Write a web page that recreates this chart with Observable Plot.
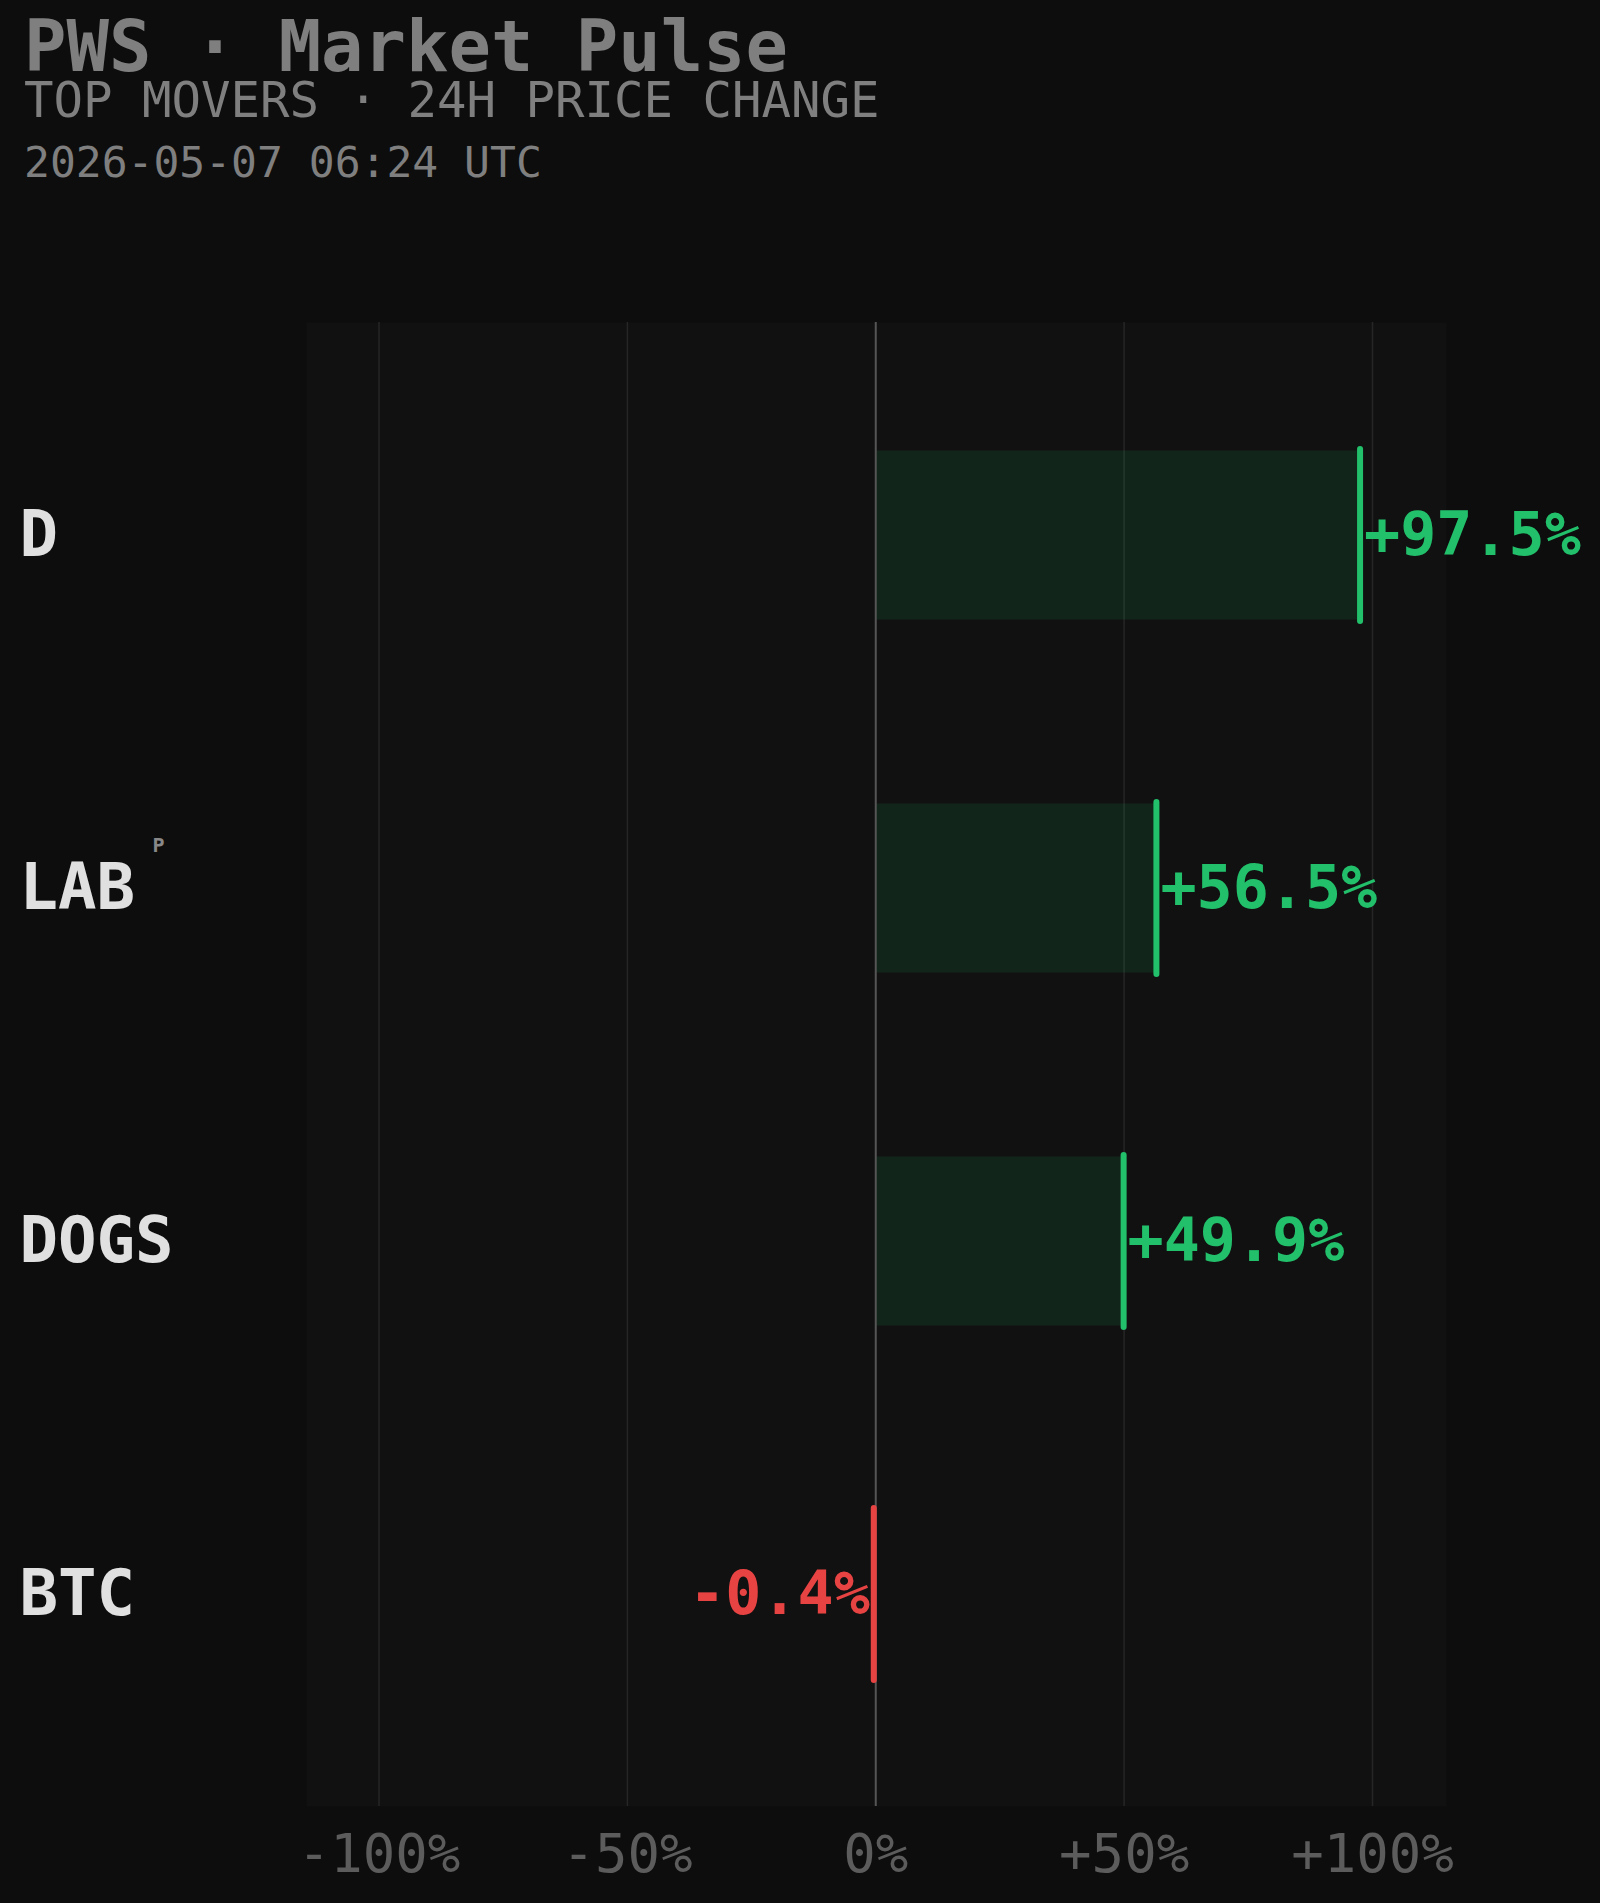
<!DOCTYPE html>
<html>
<head>
<meta charset="utf-8">
<script src="https://cdn.jsdelivr.net/npm/d3@7"></script>
<script src="https://cdn.jsdelivr.net/npm/@observablehq/plot@0.6"></script>
<style>
  html, body { margin: 0; padding: 0; background: #0d0d0d; }
  body { width: 1600px; height: 1903px; overflow: hidden; font-family: "DejaVu Sans Mono", monospace; }
  #header { position: relative; height: 250px; }
  #header div { position: absolute; left: 24px; line-height: 0.8; white-space: pre; color: #7f7f7f; }
  #title { top: 19px; font-size: 70.5px; font-weight: bold; }
  #subtitle { top: 81px; font-size: 49px; }
  #stamp { top: 145px; font-size: 43px; color: #777; }
  #chart svg { display: block; }
</style>
</head>
<body>
<div id="header">
  <div id="title">PWS · Market Pulse</div>
  <div id="subtitle">TOP MOVERS · 24H PRICE CHANGE</div>
  <div id="stamp">2026-05-07 06:24 UTC</div>
</div>
<div id="chart"></div>
<script>
// ---- data ----
const symbols = ["D", "LAB", "DOGS", "BTC"];
const changes = [97.5, 56.5, 49.9, -0.4];
const tags = ["", "P", "", ""];
const xTicks = [-100, -50, 0, 50, 100];
const gridTicks = [-100, -50, 50, 100];

const GREEN = "#22c06b";
const RED = "#e84343";

const rows = symbols.map((s, i) => ({
  symbol: s,
  change: changes[i],
  tag: tags[i],
  color: changes[i] >= 0 ? GREEN : RED,
  label: (changes[i] >= 0 ? "+" : "") + changes[i].toFixed(1) + "%"
}));

const fmtTick = d => (d > 0 ? "+" : "") + d + "%";

const chart = Plot.plot({
  width: 1600,
  height: 1653,
  marginTop: 72,
  marginBottom: 97,
  marginLeft: 306,
  marginRight: 154,
  style: { background: "transparent", fontFamily: "DejaVu Sans Mono", overflow: "visible" },
  x: { domain: [-114.6, 114.9], axis: null },
  y: { domain: symbols, paddingInner: 0.514, paddingOuter: 0.354, axis: null },
  marks: [
    Plot.frame({ fill: "#111111" }),
    Plot.ruleX(gridTicks, { stroke: "#262626", strokeWidth: 1.5 }),
    Plot.barX(rows, { x1: 0, x2: "change", y: "symbol", fill: "color", fillOpacity: 0.12, insetTop: 1.5, insetBottom: 1.5 }),
    Plot.ruleX([0], { stroke: "#555555", strokeWidth: 2 }),
    Plot.tickX(rows, { x: "change", y: "symbol", stroke: "color", strokeWidth: 6, strokeLinecap: "round" }),
    Plot.text(rows.filter(d => d.change >= 0), { x: "change", y: "symbol", text: "label", fill: "color", textAnchor: "start", dx: 4, fontSize: 60, fontWeight: "bold" }),
    Plot.text(rows.filter(d => d.change < 0), { x: "change", y: "symbol", text: "label", fill: "color", textAnchor: "end", dx: -4, fontSize: 60, fontWeight: "bold" }),
    Plot.text(rows, { y: "symbol", text: "symbol", frameAnchor: "left", dx: -287, textAnchor: "start", fontSize: 64, fontWeight: "bold", fill: "#e0e0e0" }),
    Plot.text(rows.filter(d => d.tag), { y: "symbol", text: "tag", frameAnchor: "left", dx: -154, dy: -43, textAnchor: "start", fontSize: 20, fontWeight: "bold", fill: "#888888" }),
    Plot.axisX(xTicks, { tickSize: 0, tickPadding: 27, tickFormat: fmtTick, fontSize: 54, color: "#5c5c5c", label: null })
  ]
});
document.getElementById("chart").appendChild(chart);
</script>
</body>
</html>
